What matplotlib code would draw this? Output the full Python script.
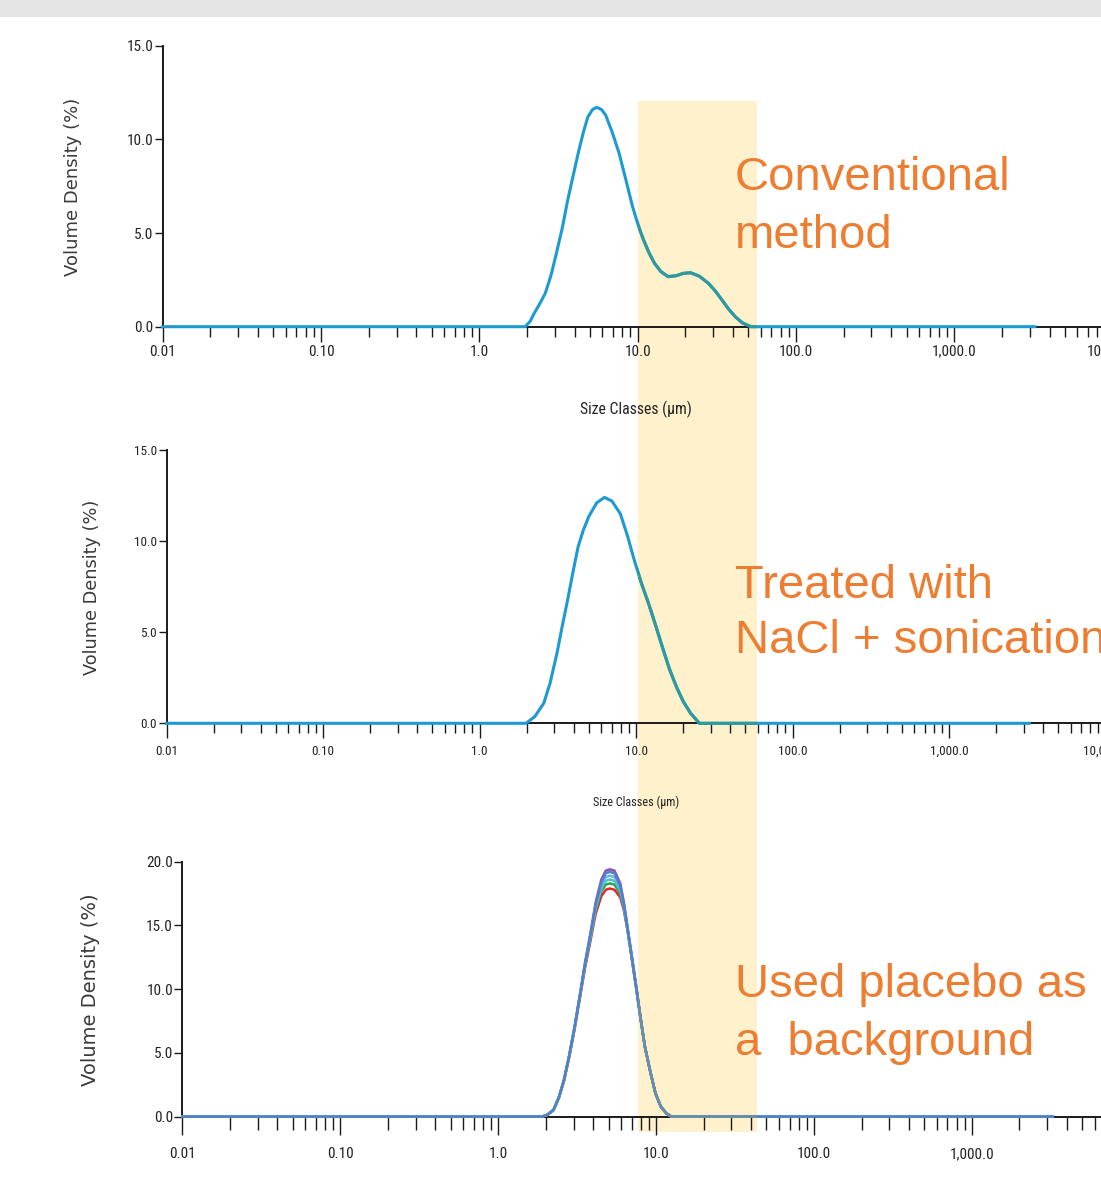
import matplotlib
matplotlib.use("Agg")
import matplotlib.pyplot as plt
from matplotlib.patches import Rectangle
from matplotlib.ticker import LogLocator, NullFormatter
from matplotlib import font_manager as fm

# ---------------- data ----------------
x_tick_values = [0.01, 0.1, 1, 10, 100, 1000, 10000]
x_tick_labels = ["0.01", "0.10", "1.0", "10.0", "100.0", "1,000.0", "10,000.0"]

y_ticks_15 = [0, 5, 10, 15]
y_labels_15 = ["0.0", "5.0", "10.0", "15.0"]
y_ticks_20 = [0, 5, 10, 15, 20]
y_labels_20 = ["0.0", "5.0", "10.0", "15.0", "20.0"]

# Panel 1: conventional method
size_conv = [0.01, 1.95, 2.1, 2.22, 2.4, 2.61, 2.85, 3.07, 3.35, 3.62, 3.95, 4.26,
             4.55, 4.85, 5.2, 5.52, 5.9, 6.28, 6.9, 7.64, 8.4, 9.29, 10.1, 10.9,
             11.8, 12.8, 14.0, 15.6, 17.5, 19.5, 21.6, 24.5, 28.0, 31.0, 34.1,
             37.5, 41.4, 46.0, 52.0, 3230]
vd_conv = [0, 0, 0.3, 0.71, 1.2, 1.78, 2.8, 3.92, 5.3, 6.77, 8.2, 9.43,
           10.4, 11.2, 11.6, 11.71, 11.6, 11.3, 10.4, 9.26, 7.9, 6.41, 5.4, 4.63,
           3.95, 3.38, 2.95, 2.67, 2.72, 2.85, 2.88, 2.7, 2.32, 1.9, 1.43,
           0.95, 0.53, 0.2, 0, 0]

# Panel 2: treated with NaCl + sonication
size_nacl = [0.01, 1.98, 2.25, 2.57, 2.82, 3.12, 3.35, 3.65, 3.95, 4.26, 4.6, 4.98,
             5.6, 6.28, 7.0, 7.93, 8.8, 9.73, 10.8, 12.0, 13.3, 14.7, 16.3, 18.1,
             20.0, 22.3, 25.4, 3250]
vd_nacl = [0, 0, 0.36, 1.1, 2.2, 3.84, 5.2, 6.77, 8.3, 9.69, 10.6, 11.34,
           12.1, 12.4, 12.2, 11.5, 10.3, 8.96, 7.7, 6.59, 5.4, 4.2, 3.0, 2.0,
           1.2, 0.55, 0, 0]

# Panel 3: used placebo as a background (six replicate measurements)
size_plac = [0.01, 1.89, 2.05, 2.24, 2.42, 2.61, 2.82, 3.05, 3.3, 3.55, 3.84, 4.14,
             4.5, 4.8, 5.08, 5.45, 5.93, 6.25, 6.57, 7.0, 7.47, 7.95, 8.49, 9.2,
             9.9, 10.7, 11.6, 12.5, 3236]
vd_plac_red = [0, 0, 0.15, 0.5, 1.45, 2.8, 4.7, 6.9, 9.4, 11.7, 13.8, 15.9,
               17.3, 17.8, 17.9, 17.8, 17.2, 16.2, 14.7, 12.5, 10.1, 7.8, 5.5, 3.5,
               1.85, 0.8, 0.27, 0, 0]
vd_plac_green = [0, 0, 0.15, 0.52, 1.48, 2.85, 4.75, 7.0, 9.5, 11.85, 14.0, 16.2,
                 17.7, 18.2, 18.3, 18.2, 17.5, 16.4, 14.8, 12.5, 10.2, 7.8, 5.5, 3.5,
                 1.85, 0.8, 0.27, 0, 0]
vd_plac_cyan = [0, 0, 0.15, 0.53, 1.5, 2.88, 4.8, 7.05, 9.55, 11.95, 14.1, 16.3,
                17.9, 18.5, 18.6, 18.5, 17.7, 16.5, 14.8, 12.6, 10.2, 7.8, 5.5, 3.5,
                1.84, 0.8, 0.27, 0, 0]
vd_plac_lightblue = [0, 0, 0.15, 0.53, 1.5, 2.88, 4.8, 7.06, 9.6, 12.0, 14.2, 16.5,
                     18.1, 18.8, 18.9, 18.8, 17.9, 16.6, 14.9, 12.6, 10.2, 7.8, 5.49, 3.5,
                     1.84, 0.8, 0.27, 0, 0]
vd_plac_purple = [0, 0, 0.16, 0.55, 1.52, 2.9, 4.85, 7.1, 9.65, 12.1, 14.4, 16.8,
                  18.6, 19.3, 19.4, 19.3, 18.3, 16.8, 15.0, 12.7, 10.3, 7.9, 5.5, 3.5,
                  1.84, 0.8, 0.27, 0, 0]
vd_plac_blue = [0, 0, 0.15, 0.53, 1.5, 2.88, 4.8, 7.06, 9.6, 12.0, 14.3, 16.6,
                18.4, 19.1, 19.2, 19.1, 18.1, 16.7, 14.9, 12.6, 10.2, 7.8, 5.49, 3.5,
                1.84, 0.8, 0.27, 0, 0]

placebo_series = [vd_plac_red, vd_plac_green, vd_plac_cyan,
                  vd_plac_purple, vd_plac_lightblue, vd_plac_blue]
placebo_colors = ["#E3262B", "#2EA24A", "#43C6C9", "#8E4FB0", "#6FB0E6", "#4F82C4"]

notes = [["Conventional", "method"],
         ["Treated with", "NaCl + sonication"],
         ["Used placebo as", "a  background"]]

# ---------------- layout ----------------
W, H = 1101, 1179
fig = plt.figure(figsize=(W / 100, H / 100), dpi=100)
fig.patch.set_facecolor("white")

# find a condensed sans font if one is installed
_cond = None
_pref = ["Liberation Sans Narrow", "Roboto Condensed", "DejaVu Sans",
         "Open Sans", "Noto Sans", "Inter"]
_cands = [f for f in fm.fontManager.ttflist
          if str(f.stretch) in ("condensed", "semi-condensed", "extra-condensed")
          and f.style == "normal" and f.weight in (400, "normal", "regular")]
for name in _pref:
    for f in _cands:
        if f.name == name:
            _cond = f
            break
    if _cond is not None:
        break
if _cond is None and _cands:
    _cond = _cands[0]

if _cond is not None:
    def tick_font(size):
        return fm.FontProperties(fname=_cond.fname, size=size)
else:
    def tick_font(size):
        return fm.FontProperties(family="Liberation Sans", size=size * 0.85)


def fx(px):
    return px / W


def fy(py):
    return 1 - py / H


# grey strip on top
fig.add_artist(Rectangle((0, fy(17)), 1, 17 / H, transform=fig.transFigure,
                         facecolor="#E5E5E5", edgecolor="none", zorder=-2))
# highlighted size band
band_x0, band_x1, band_y0, band_y1 = 638, 757, 101, 1132
fig.add_artist(Rectangle((fx(band_x0), fy(band_y1)), (band_x1 - band_x0) / W,
                         (band_y1 - band_y0) / H, transform=fig.transFigure,
                         facecolor="#FFF1CC", edgecolor="none", zorder=-1))


def band_clip():
    return Rectangle((fx(band_x0), fy(band_y1)), (band_x1 - band_x0) / W,
                     (band_y1 - band_y0) / H, transform=fig.transFigure)


def make_ax(left, right, y0, ytop, ymax, yt, ytl, fs, maj, mnr, pad):
    ax = fig.add_axes([fx(left), fy(y0), (right - left) / W, (y0 - ytop) / H])
    ax.set_facecolor("none")
    ax.set_xscale("log")
    ax.set_xlim(1e-2, 1e4)
    ax.set_ylim(0, ymax)
    for s in ("top", "right"):
        ax.spines[s].set_visible(False)
    for s in ("left", "bottom"):
        ax.spines[s].set_color("#1a1a1a")
        ax.spines[s].set_linewidth(1.4)
    ax.set_xticks(x_tick_values, x_tick_labels)
    ax.xaxis.set_minor_locator(LogLocator(base=10, subs=range(2, 10), numticks=100))
    ax.xaxis.set_minor_formatter(NullFormatter())
    ax.set_yticks(yt, ytl)
    ax.tick_params(axis="x", which="major", length=maj, width=1.0, color="#1a1a1a",
                   pad=pad, labelcolor="#222222")
    ax.tick_params(axis="x", which="minor", length=mnr, width=1.0, color="#1a1a1a")
    ax.tick_params(axis="y", which="major", length=6, width=1.0, color="#1a1a1a",
                   pad=0.8, labelcolor="#222222")
    for lab in ax.get_xticklabels() + ax.get_yticklabels():
        lab.set_fontproperties(tick_font(fs))
    return ax


ax1 = make_ax(162.7, 1112.5, 326.7, 45.7, 15, y_ticks_15, y_labels_15, 11, 10.8, 7.2, 2.2)
ax2 = make_ax(166.6, 1105.6, 723.3, 450.0, 15, y_ticks_15, y_labels_15, 9.5, 10.8, 7.2, 5.0)
ax3 = make_ax(182.4, 1129.8, 1116.7, 861.7, 20, y_ticks_20, y_labels_20, 11, 13.0, 9.4, 9.0)

LINE_BLUE = "#1E9AD3"
TEAL = "#2F9A9C"

for ax, xs, ys in ((ax1, size_conv, vd_conv), (ax2, size_nacl, vd_nacl)):
    ax.plot(xs, ys, color=LINE_BLUE, lw=2.2, zorder=3, clip_on=False,
            solid_joinstyle="round")
    ov, = ax.plot(xs, ys, color=TEAL, lw=2.2, zorder=3.1, solid_joinstyle="round")
    ov.set_clip_path(band_clip())

for ys, c in zip(placebo_series, placebo_colors):
    ax3.plot(size_plac, ys, color=c, lw=1.8, zorder=3, clip_on=False,
             solid_joinstyle="round")
ov, = ax3.plot(size_plac, vd_plac_blue, color="#6A8FA6", lw=1.8, zorder=3.1)
ov.set_clip_path(band_clip())

# axis titles
for x, y, fs in ((73, 186.5, 13), (92, 587, 12.8), (90, 990, 14)):
    fig.text(fx(x), fy(y), "Volume Density (%)", rotation=90, ha="center",
             va="center", fontsize=fs, color="#3a3a3a", family="DejaVu Sans")
for y, fs in ((409, 11.3), (802, 8.7)):
    fig.text(fx(636), fy(y), "Size Classes (\u00b5m)", ha="center", va="center",
             color="#222222", fontproperties=tick_font(fs))

# orange annotations
ORANGE = "#ED7D31"
for lines, base in zip(notes, ((190, 248), (598, 653), (997, 1055))):
    for txt, b in zip(lines, base):
        fig.text(fx(735), fy(b), txt, ha="left", va="baseline", fontsize=34,
                 color=ORANGE, family=["Liberation Sans", "DejaVu Sans"])

fig.savefig("out.png", dpi=100)
